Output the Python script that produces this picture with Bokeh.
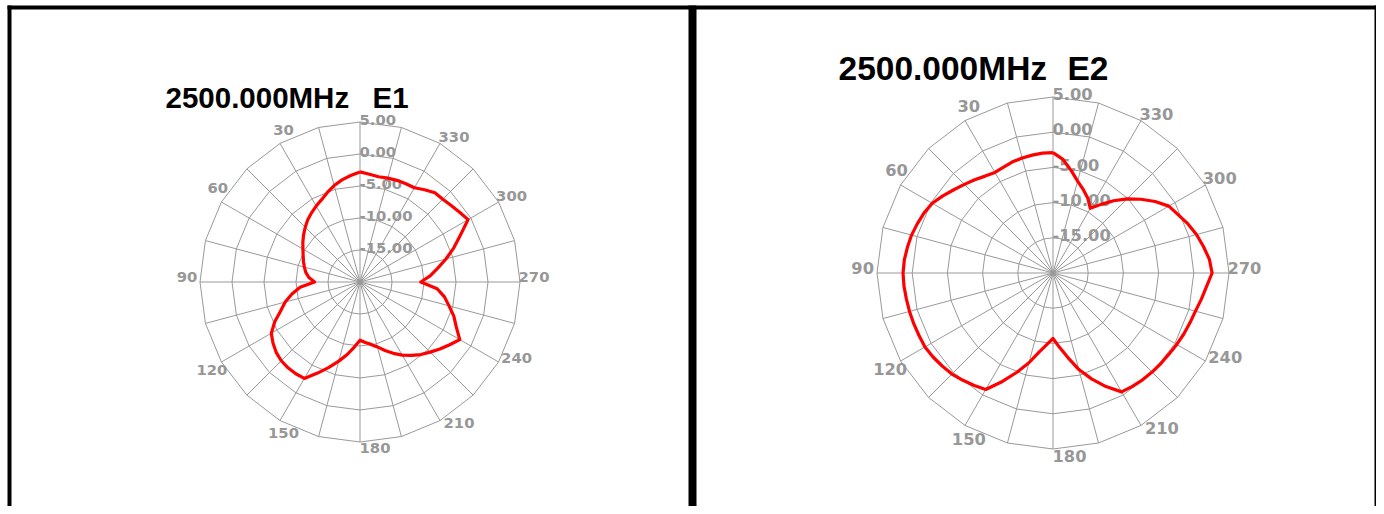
import numpy as np
from bokeh.plotting import figure
from bokeh.models import Range1d
from bokeh.embed import file_html
from bokeh.resources import INLINE
from bokeh.core.properties import value

# ---------------- data ----------------
angles = list(range(0, 361, 5))  # degrees, counter-clockwise from top

e1_db = [-2.8, -3.3, -3.8, -4.4, -5.1, -5.8, -6.3, -6.8, -7.3, -7.9,
         -8.5, -9.1, -9.7, -10.2, -10.6, -11.0, -11.4, -12.0, -12.9, -10.6,
         -9.2, -7.9, -6.8, -5.3, -4.0, -3.4, -2.9, -2.6, -2.5, -2.5,
         -2.6, -4.3, -5.8, -7.2, -8.5, -9.8, -10.9, -10.5, -10.1, -9.5,
         -8.6, -7.7, -6.8, -6.0, -5.2, -4.5, -3.7, -2.9, -2.0, -3.4,
         -4.4, -5.6, -6.6, -7.9, -10.5, -9.0, -7.7, -6.1, -4.4, -2.7,
         -0.5, -1.0, -1.4, -1.7, -1.8, -2.4, -3.0, -3.05, -3.1, -3.2,
         -3.3, -3.1, -2.8]

e2_db = [-2.9, -2.9, -3.0, -3.1, -3.2, -3.4, -3.5, -3.2, -2.7, -2.2,
         -1.6, -0.9, -0.2, 0.2, 0.5, 0.8, 1.0, 1.2, 1.3, 1.25,
         1.15, 1.1, 1.05, 1.0, 1.0, 0.8, 0.55, 0.3, -0.1, -0.5,
         -0.9, -3.0, -5.0, -6.8, -8.6, -9.8, -10.7, -9.4, -7.8, -5.8,
         -4.0, -2.2, -0.5, -0.35, -0.2, -0.1, 0.0, 0.1, 0.3, 0.5,
         0.7, 0.95, 1.4, 1.9, 2.6, 2.3, 1.7, 1.1, 0.4, -0.4,
         -1.0, -2.3, -3.7, -5.1, -6.6, -8.1, -9.4, -8.3, -7.4, -6.5,
         -5.2, -3.8, -2.9]

ring_db = [5, 0, -5, -10, -15]
ring_labels = ["5.00", "0.00", "-5.00", "-10.00", "-15.00"]
angle_ticks = [30, 60, 90, 120, 150, 180, 210, 240, 270, 300, 330]
angle_labels = [str(a) for a in angle_ticks]
title_freq = "2500.000MHz"
title_ports = ["E1", "E2"]
DB_MIN, DB_MAX = -20.0, 5.0

# ---------------- layout / style ----------------
GRID = "#999999"
LABEL = "#979797"
# label centre offsets from spoke ends (for R = 160)
LABEL_OFF = {30: (3.5, -13), 60: (-3.7, -14), 90: (-13, -5), 120: (-9.5, 7.5),
             150: (3.5, 12), 180: (15, 6), 210: (19, 2), 240: (18, -4),
             270: (14, -5), 300: (13, -6), 330: (14, -6)}

panels = [
    dict(cx=359.5, cy=281.5, R=160.0, tx=165, ex=372, ty=97, tsize=29.5, data=e1_db),
    dict(cx=1052.5, cy=272.5, R=176.0, tx=838, ex=1067, ty=68, tsize=33.5, data=e2_db),
]

W, H = 1376, 506
p = figure(width=W, height=H, output_backend="svg", toolbar_location=None,
           x_range=Range1d(0, W), y_range=Range1d(H, 0),
           x_axis_location=None, y_axis_location=None, min_border=0,
           outline_line_color=None, background_fill_color="white",
           border_fill_color="white")
p.grid.visible = False

# cell borders
p.quad(left=[7, 7, 688, 1374], right=[1378, 11, 696, 1378],
       top=[5, 5, 5, 5], bottom=[9, 520, 520, 520],
       fill_color="black", line_color=None)


def rad(db, R):
    return (np.asarray(db, dtype=float) - DB_MIN) / (DB_MAX - DB_MIN) * R


for i, pn in enumerate(panels):
    cx, cy, R = pn["cx"], pn["cy"], pn["R"]
    k = R / 160.0
    # spokes
    sp = np.radians(np.arange(0, 360, 15))
    p.segment(x0=[cx] * len(sp), y0=[cy] * len(sp),
              x1=list(cx - R * np.sin(sp)), y1=list(cy - R * np.cos(sp)),
              line_color=GRID, line_width=1)
    # rings (24-gons)
    poly = np.radians(np.arange(0, 361, 15))
    xs, ys = [], []
    for d in ring_db:
        r = rad(d, R)
        xs.append(list(cx - r * np.sin(poly)))
        ys.append(list(cy - r * np.cos(poly)))
    p.multi_line(xs=xs, ys=ys, line_color=GRID, line_width=1)
    # ring labels
    rr = rad(ring_db, R)
    p.text(x=[cx - 0.5] * len(ring_db), y=list(cy - rr - 2.5 * k), text=ring_labels,
           text_font=value("DejaVu Sans"), text_font_style="bold",
           text_font_size=f"{14.8 * k:.1f}px", text_color=LABEL,
           text_align="left", text_baseline="alphabetic")
    # angle labels
    at = np.radians(angle_ticks)
    lx = [cx - R * np.sin(a) + LABEL_OFF[t][0] * k for a, t in zip(at, angle_ticks)]
    ly = [cy - R * np.cos(a) + LABEL_OFF[t][1] * k for a, t in zip(at, angle_ticks)]
    p.text(x=lx, y=ly, text=angle_labels,
           text_font=value("DejaVu Sans"), text_font_style="bold",
           text_font_size=f"{14.8 * k:.1f}px", text_color=LABEL,
           text_align="center", text_baseline="middle")
    # title
    p.text(x=[pn["tx"], pn["ex"]], y=[pn["ty"], pn["ty"]], text=[title_freq, title_ports[i]],
           text_font=value("Liberation Sans"), text_font_style="bold",
           text_font_size=f"{pn['tsize']}px", text_color="black",
           text_align="left", text_baseline="alphabetic")
    # pattern
    th = np.radians(angles)
    r = rad(pn["data"], R)
    p.line(x=list(cx - r * np.sin(th)), y=list(cy - r * np.cos(th)),
           line_color="#ff0000", line_width=3.2, line_join="round")

open("out.html", "w").write(file_html(p, INLINE))
